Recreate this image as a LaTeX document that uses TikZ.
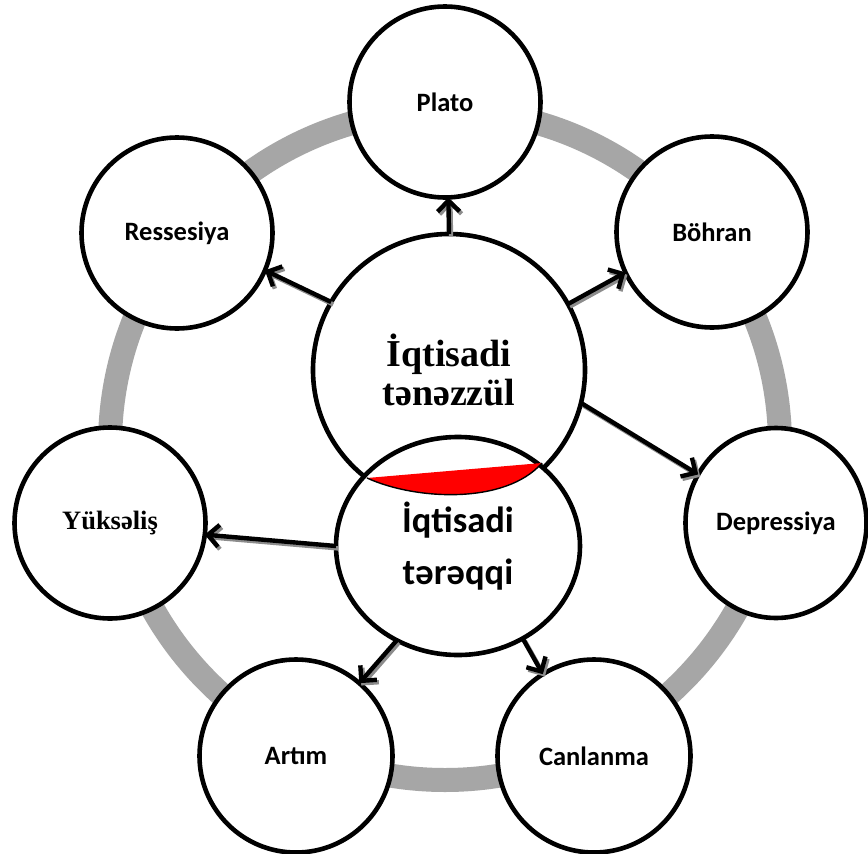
\documentclass[tikz,border=0pt]{standalone}
\usepackage{fontspec}
\newfontfamily\calfont{Carlito}
\newfontfamily\timesfont{Liberation Serif}
\usetikzlibrary{shapes.geometric,arrows.meta}
\definecolor{ringgray}{RGB}{166,166,166}
\definecolor{shadowgray}{RGB}{140,140,140}
\begin{document}
\begin{tikzpicture}[x=1pt,y=-1pt,
  bub/.style={circle,draw=black,line width=4.6pt,fill=white,minimum size=191pt,inner sep=0pt,outer sep=0pt,align=center},
  sanslbl/.style={font=\calfont\bfseries\fontsize{26.5}{30}\selectfont},
  seriflbl/.style={font=\timesfont\bfseries\fontsize{26.5}{30}\selectfont},
  arr/.style={line width=4.4pt,-{Straight Barb[length=11pt,width=22pt]},
    preaction={draw=shadowgray,line width=4.4pt,-{Straight Barb[length=11pt,width=22pt]},transform canvas={shift={(2pt,-2.4pt)}}}},
  ring/.style={draw=ringgray,line width=24pt}
]
\fill[white] (0,0) rectangle (868,854);
\useasboundingbox (0,0) rectangle (868,854);
% gray cycle ring
\draw[ring] (445,445) circle[radius=335pt];
% central circles
\node[bub,minimum size=272pt,font=\timesfont\bfseries\fontsize{38}{39}\selectfont] (big) at (449,370) {İqtisadi\\tənəzzül};
\node[bub,ellipse,minimum width=244pt,minimum height=218pt,font=\calfont\bfseries\fontsize{36.5}{52}\selectfont] (low) at (458,546) {İqtisadi\\tərəqqi};
% red lens
\coordinate (rl) at (367,478);
\coordinate (rr) at (542,463);
\fill[red] (rl) -- (rr) .. controls (505,505) and (415,500) .. (rl) -- cycle;
\draw[line width=1.4pt] (rl) .. controls (415,500) and (505,505) .. (rr);
% outer circles
\node[bub,sanslbl] (plato) at (445,102) {Plato};
\node[bub,sanslbl] (ress) at (177,233) {Ressesiya};
\node[bub,sanslbl] (bohran) at (712,232) {Böhran};
\node[bub,ellipse,minimum width=181pt,minimum height=190pt,sanslbl] (dep) at (776,523) {Depressiya};
\node[bub,seriflbl] (yuks) at (110,523) {Yüksəliş};
\node[bub,sanslbl,minimum size=193pt] (artim) at (296,756) {Artım};
\node[bub,sanslbl,minimum size=193pt] (canl) at (594,756) {Canlanma};
% arrows
\draw[arr] (big.90) -- (plato.-88);
\draw[arr] (big.150) -- (ress.-23);
\draw[arr] (big.29) -- (bohran.-155);
\draw[arr] (big.-14) -- (dep.148);
\draw[arr] (low.180) -- (yuks.-7);
\draw[arr] (low.-123) -- (artim.49);
\draw[arr] (low.-55) -- (canl.122);
\end{tikzpicture}
\end{document}
